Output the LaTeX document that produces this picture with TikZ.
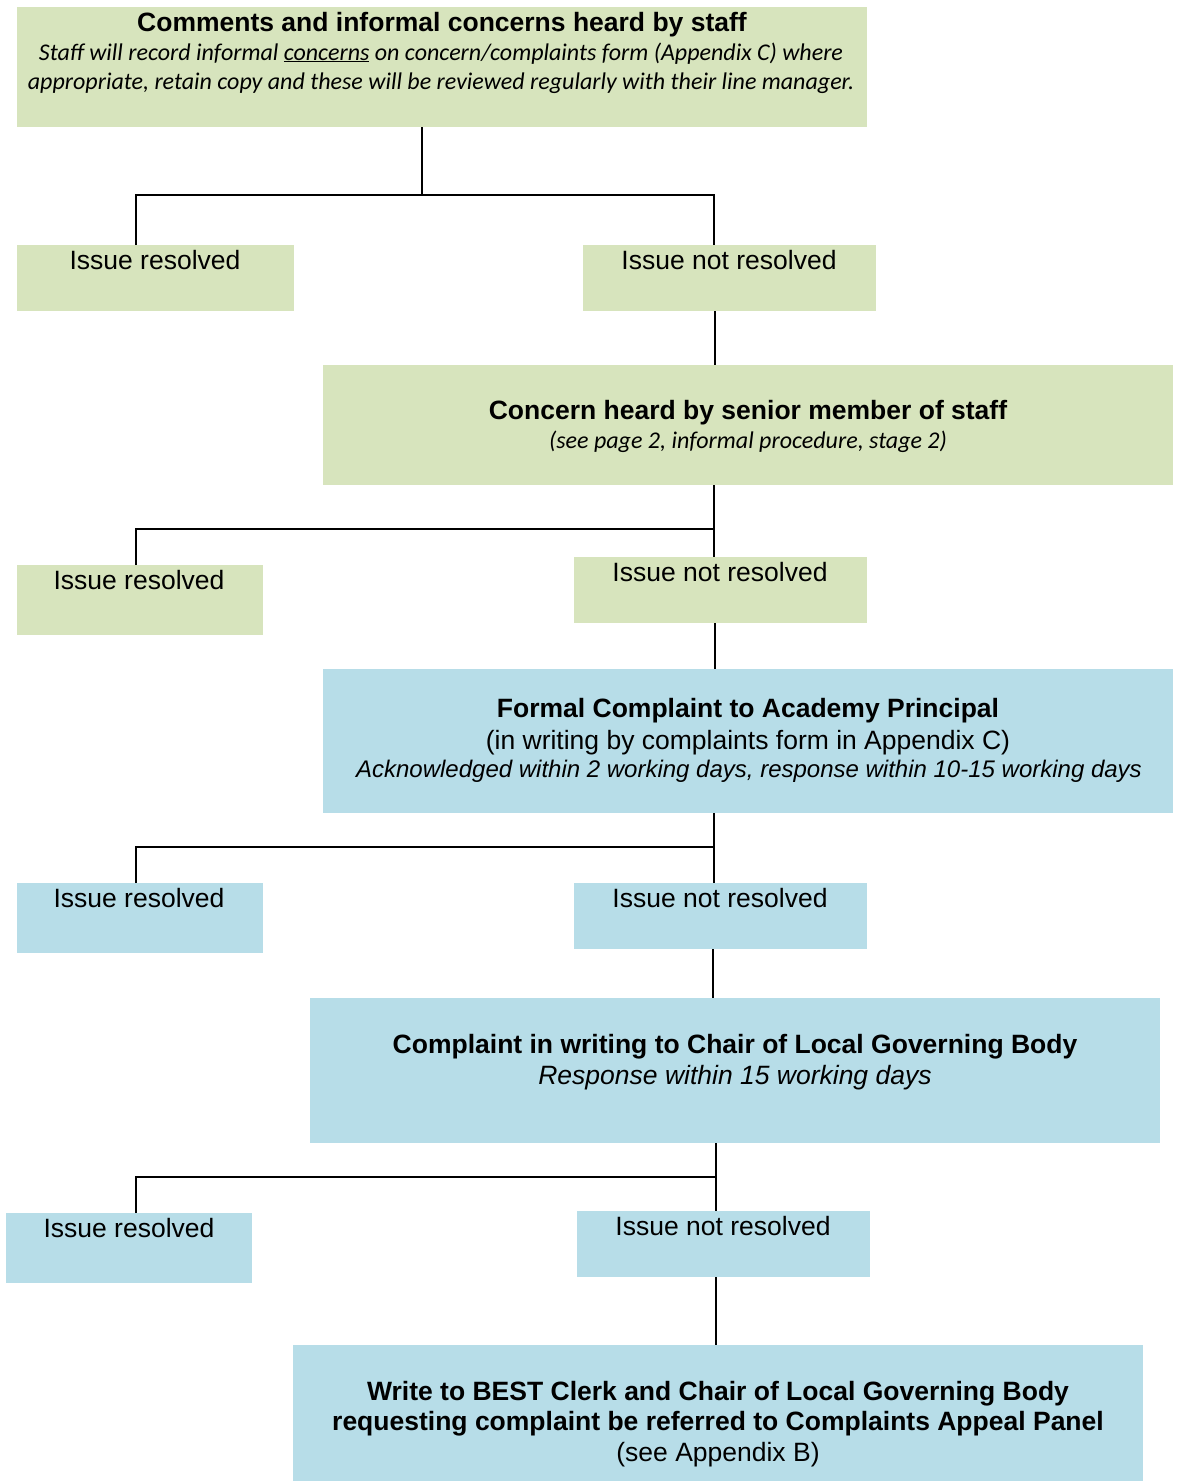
\documentclass[tikz,border=0pt]{standalone}
\usepackage{fontspec}
\setmainfont{Liberation Sans}
\newfontfamily\calibrifont{Carlito}
\definecolor{boxgreen}{HTML}{D7E4BD}
\definecolor{boxblue}{HTML}{B7DDE8}
\tikzset{
  gbox/.style={fill=boxgreen, draw=none, inner sep=0pt, anchor=north west},
  bbox/.style={fill=boxblue, draw=none, inner sep=0pt, anchor=north west},
  txt/.style={inner sep=0pt, anchor=base, font=\fontsize{26.5}{30}\selectfont},
  ctxt/.style={inner sep=0pt, anchor=base, font=\calibrifont\itshape\fontsize{24}{28}\selectfont},
  itxt/.style={inner sep=0pt, anchor=base, font=\itshape\fontsize{24}{28}\selectfont},
  conn/.style={draw=black, line width=1.5pt}
}
\begin{document}
\begin{tikzpicture}[x=1pt,y=-1pt]
\useasboundingbox (0,0) rectangle (1180,1481);
% level 1
\node[gbox, minimum width=850pt, minimum height=120pt] (b1) at (17,7) {};
\node[txt] (b1t1) at (442,31) {\bfseries Comments and informal concerns heard by staff};
\node[ctxt] (b1t2) at (441,60) {Staff will record informal \underline{concerns} on concern/complaints form (Appendix C) where};
\node[ctxt] (b1t3) at (441,89) {appropriate, retain copy and these will be reviewed regularly with their line manager.};
\node[gbox, minimum width=277pt, minimum height=66pt] (r1) at (17,245) {};
\node[txt] at (155,269) {Issue resolved};
\node[gbox, minimum width=293pt, minimum height=66pt] (n1) at (583,245) {};
\node[txt] at (729,269) {Issue not resolved};
% level 2
\node[gbox, minimum width=850pt, minimum height=120pt] (b2) at (323,365) {};
\node[txt] at (748,419) {\bfseries Concern heard by senior member of staff};
\node[ctxt] at (748,448) {(see page 2, informal procedure, stage 2)};
\node[gbox, minimum width=246pt, minimum height=70pt] (r2) at (17,565) {};
\node[txt] at (139,589) {Issue resolved};
\node[gbox, minimum width=293pt, minimum height=66pt] (n2) at (574,557) {};
\node[txt] at (720,581) {Issue not resolved};
% level 3
\node[bbox, minimum width=850pt, minimum height=144pt] (b3) at (323,669) {};
\node[txt] at (748,717) {\bfseries Formal Complaint to Academy Principal};
\node[txt] at (748,749) {(in writing by complaints form in Appendix C)};
\node[itxt] at (749,777) {Acknowledged within 2 working days, response within 10-15 working days};
\node[bbox, minimum width=246pt, minimum height=70pt] (r3) at (17,883) {};
\node[txt] at (139,907) {Issue resolved};
\node[bbox, minimum width=293pt, minimum height=66pt] (n3) at (574,883) {};
\node[txt] at (720,907) {Issue not resolved};
% level 4
\node[bbox, minimum width=850pt, minimum height=145pt] (b4) at (310,998) {};
\node[txt] at (735,1053) {\bfseries Complaint in writing to Chair of Local Governing Body};
\node[itxt, font=\itshape\fontsize{26.5}{30}\selectfont] at (735,1084) {Response within 15 working days};
\node[bbox, minimum width=246pt, minimum height=70pt] (r4) at (6,1213) {};
\node[txt] at (129,1237) {Issue resolved};
\node[bbox, minimum width=293pt, minimum height=66pt] (n4) at (577,1211) {};
\node[txt] at (723,1235) {Issue not resolved};
% level 5
\node[bbox, minimum width=850pt, minimum height=136pt] (b5) at (293,1345) {};
\node[txt] at (718,1400) {\bfseries Write to BEST Clerk and Chair of Local Governing Body};
\node[txt] at (718,1430) {\bfseries requesting complaint be referred to Complaints Appeal Panel};
\node[txt] at (718,1461) {(see Appendix B)};
% connectors
\coordinate (j1) at (422,195);
\draw[conn] (b1.south -| j1) -- (j1);
\draw[conn] (r1.north -| 136,0) |- (j1) -| (n1.north -| 714,0);
\draw[conn] (n1.south -| 715,0) -- (b2.north -| 715,0);
\coordinate (j2) at (714,529);
\draw[conn] (b2.south -| j2) -- (n2.north -| j2);
\draw[conn] (r2.north -| 136,0) |- (j2);
\draw[conn] (n2.south -| 715,0) -- (b3.north -| 715,0);
\coordinate (j3) at (714,847);
\draw[conn] (b3.south -| j3) -- (n3.north -| j3);
\draw[conn] (r3.north -| 136,0) |- (j3);
\draw[conn] (n3.south -| 713,0) -- (b4.north -| 713,0);
\coordinate (j4) at (716,1177);
\draw[conn] (b4.south -| j4) -- (n4.north -| j4);
\draw[conn] (r4.north -| 136,0) |- (j4);
\draw[conn] (n4.south -| 716,0) -- (b5.north -| 716,0);
\end{tikzpicture}
\end{document}
